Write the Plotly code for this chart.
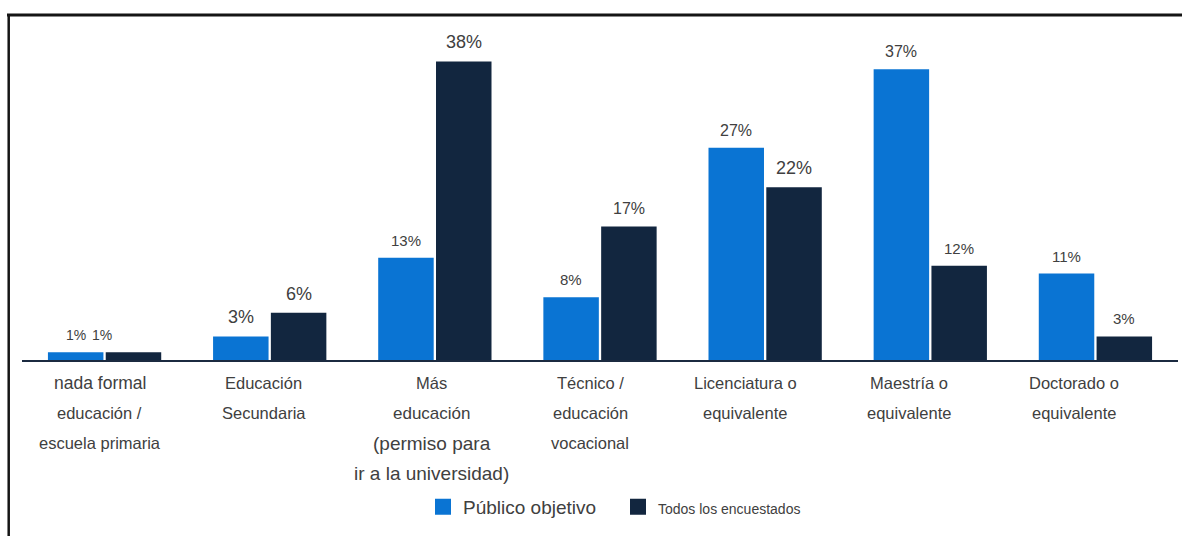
import plotly.graph_objects as go

# Education level categories, each one a list of label lines
categories = [
    "nada formal educación / escuela primaria",
    "Educación Secundaria",
    "Más educación (permiso para ir a la universidad)",
    "Técnico / educación vocacional",
    "Licenciatura o equivalente",
    "Maestría o equivalente",
    "Doctorado o equivalente",
]
category_lines = [
    ["nada formal", "educación /", "escuela primaria"],
    ["Educación", "Secundaria"],
    ["Más", "educación", "(permiso para", "ir a la universidad)"],
    ["Técnico /", "educación", "vocacional"],
    ["Licenciatura o", "equivalente"],
    ["Maestría o", "equivalente"],
    ["Doctorado o", "equivalente"],
]

series_names = ["Público objetivo", "Todos los encuestados"]
publico_objetivo = [1, 3, 13, 8, 27, 37, 11]
todos_encuestados = [1, 6, 38, 17, 22, 12, 3]

# Styling
BLUE = "#0A74D3"
NAVY = "#12263F"
TEXT = "#404040"
FONT = "Arial, Liberation Sans, sans-serif"
BARGAP = 0.3
value_font_sizes = [
    [14, 18, 15, 15, 16, 16, 15],
    [14, 18, 18, 16, 18, 15, 15],
]
# extra horizontal nudge (px) for value labels that sit off their bar
value_xshift = [
    [0, 0, 0, 0, 0, 0, 0],
    [-31, 0, 0, 0, 0, 0, 0],
]
label_font_sizes = [
    [17.5, 16.5, 16.5],
    [16.5, 16.5],
    [16.5, 17, 19, 19],
    [16.5, 16.5, 16.5],
    [16.5, 16.5],
    [16.5, 16.5],
    [16.5, 16.5],
]
label_xshift = [-5, -6, -3, -10, -20, -21, -21]

idx = list(range(len(categories)))

fig = go.Figure()
fig.add_trace(go.Bar(
    x=idx, y=publico_objetivo, name=series_names[0], showlegend=False,
    legendgroup="a", marker=dict(color=BLUE, line=dict(width=0)),
))
fig.add_trace(go.Bar(
    x=idx, y=todos_encuestados, name=series_names[1], showlegend=False,
    legendgroup="b", marker=dict(color=NAVY, line=dict(width=0)),
))

# legend keys: larger square swatches tied to the bar series
for name, color, grp, size in [
    (series_names[0], BLUE, "a", 19),
    (series_names[1], NAVY, "b", 14),
]:
    fig.add_trace(go.Scatter(
        x=[None], y=[None], mode="markers", legendgroup=grp,
        name=f'<span style="font-size:{size}px">{name}</span>',
        marker=dict(symbol="square", size=18, color=color),
        hoverinfo="skip",
    ))

annotations = []
# value labels above each bar, placed at the grouped bar centres
offset = (1 - BARGAP) / 4
for s, values in enumerate([publico_objetivo, todos_encuestados]):
    dx = -offset if s == 0 else offset
    for i, v in enumerate(values):
        annotations.append(dict(
            x=i + dx, y=v, xref="x", yref="y",
            text=f"{v}%", showarrow=False,
            yanchor="bottom", yshift=7, xshift=value_xshift[s][i],
            font=dict(family=FONT, size=value_font_sizes[s][i], color=TEXT),
        ))

# multi-line category labels under the axis
for i, lines in enumerate(category_lines):
    for j, line in enumerate(lines):
        annotations.append(dict(
            x=i, y=0, xref="x", yref="paper",
            text=line, showarrow=False,
            yanchor="middle", yshift=-23 - 30 * j, xshift=label_xshift[i],
            font=dict(family=FONT, size=label_font_sizes[i][j], color=TEXT),
        ))

W, H = 1182, 536
L, R, T, B = 22, 4, 30, 176
pw, ph = W - L - R, H - T - B


def px_x(px):
    return (px - L) / pw


def px_y(py):
    return (H - B - py) / ph


shapes = [
    # frame: top and left edges
    dict(type="line", xref="paper", yref="paper",
         x0=px_x(7), x1=px_x(W + 2), y0=px_y(15), y1=px_y(15),
         line=dict(color="#151515", width=3)),
    dict(type="line", xref="paper", yref="paper",
         x0=px_x(8.7), x1=px_x(8.7), y0=px_y(14), y1=px_y(H + 2),
         line=dict(color="#151515", width=2.5)),
]

fig.update_layout(
    width=W, height=H,
    margin=dict(l=L, r=R, t=T, b=B),
    paper_bgcolor="white", plot_bgcolor="white",
    barmode="group", bargap=BARGAP, bargroupgap=0.04,
    font=dict(family=FONT, color=TEXT),
    xaxis=dict(
        range=[-0.5, len(categories) - 0.5],
        showticklabels=False, ticks="", showgrid=False, zeroline=False,
        showline=True, linecolor="#1B2A40", linewidth=2,
        fixedrange=True,
    ),
    yaxis=dict(
        range=[0, 42], visible=False, showgrid=False, zeroline=False,
        fixedrange=True,
    ),
    showlegend=True,
    legend=dict(
        orientation="h", x=px_x(618), xanchor="center",
        y=px_y(507), yanchor="middle",
        font=dict(family=FONT, size=18, color=TEXT),
        traceorder="normal", itemclick=False, itemdoubleclick=False,
        entrywidth=150,
    ),
    annotations=annotations,
    shapes=shapes,
)

fig.write_html("out.html")
